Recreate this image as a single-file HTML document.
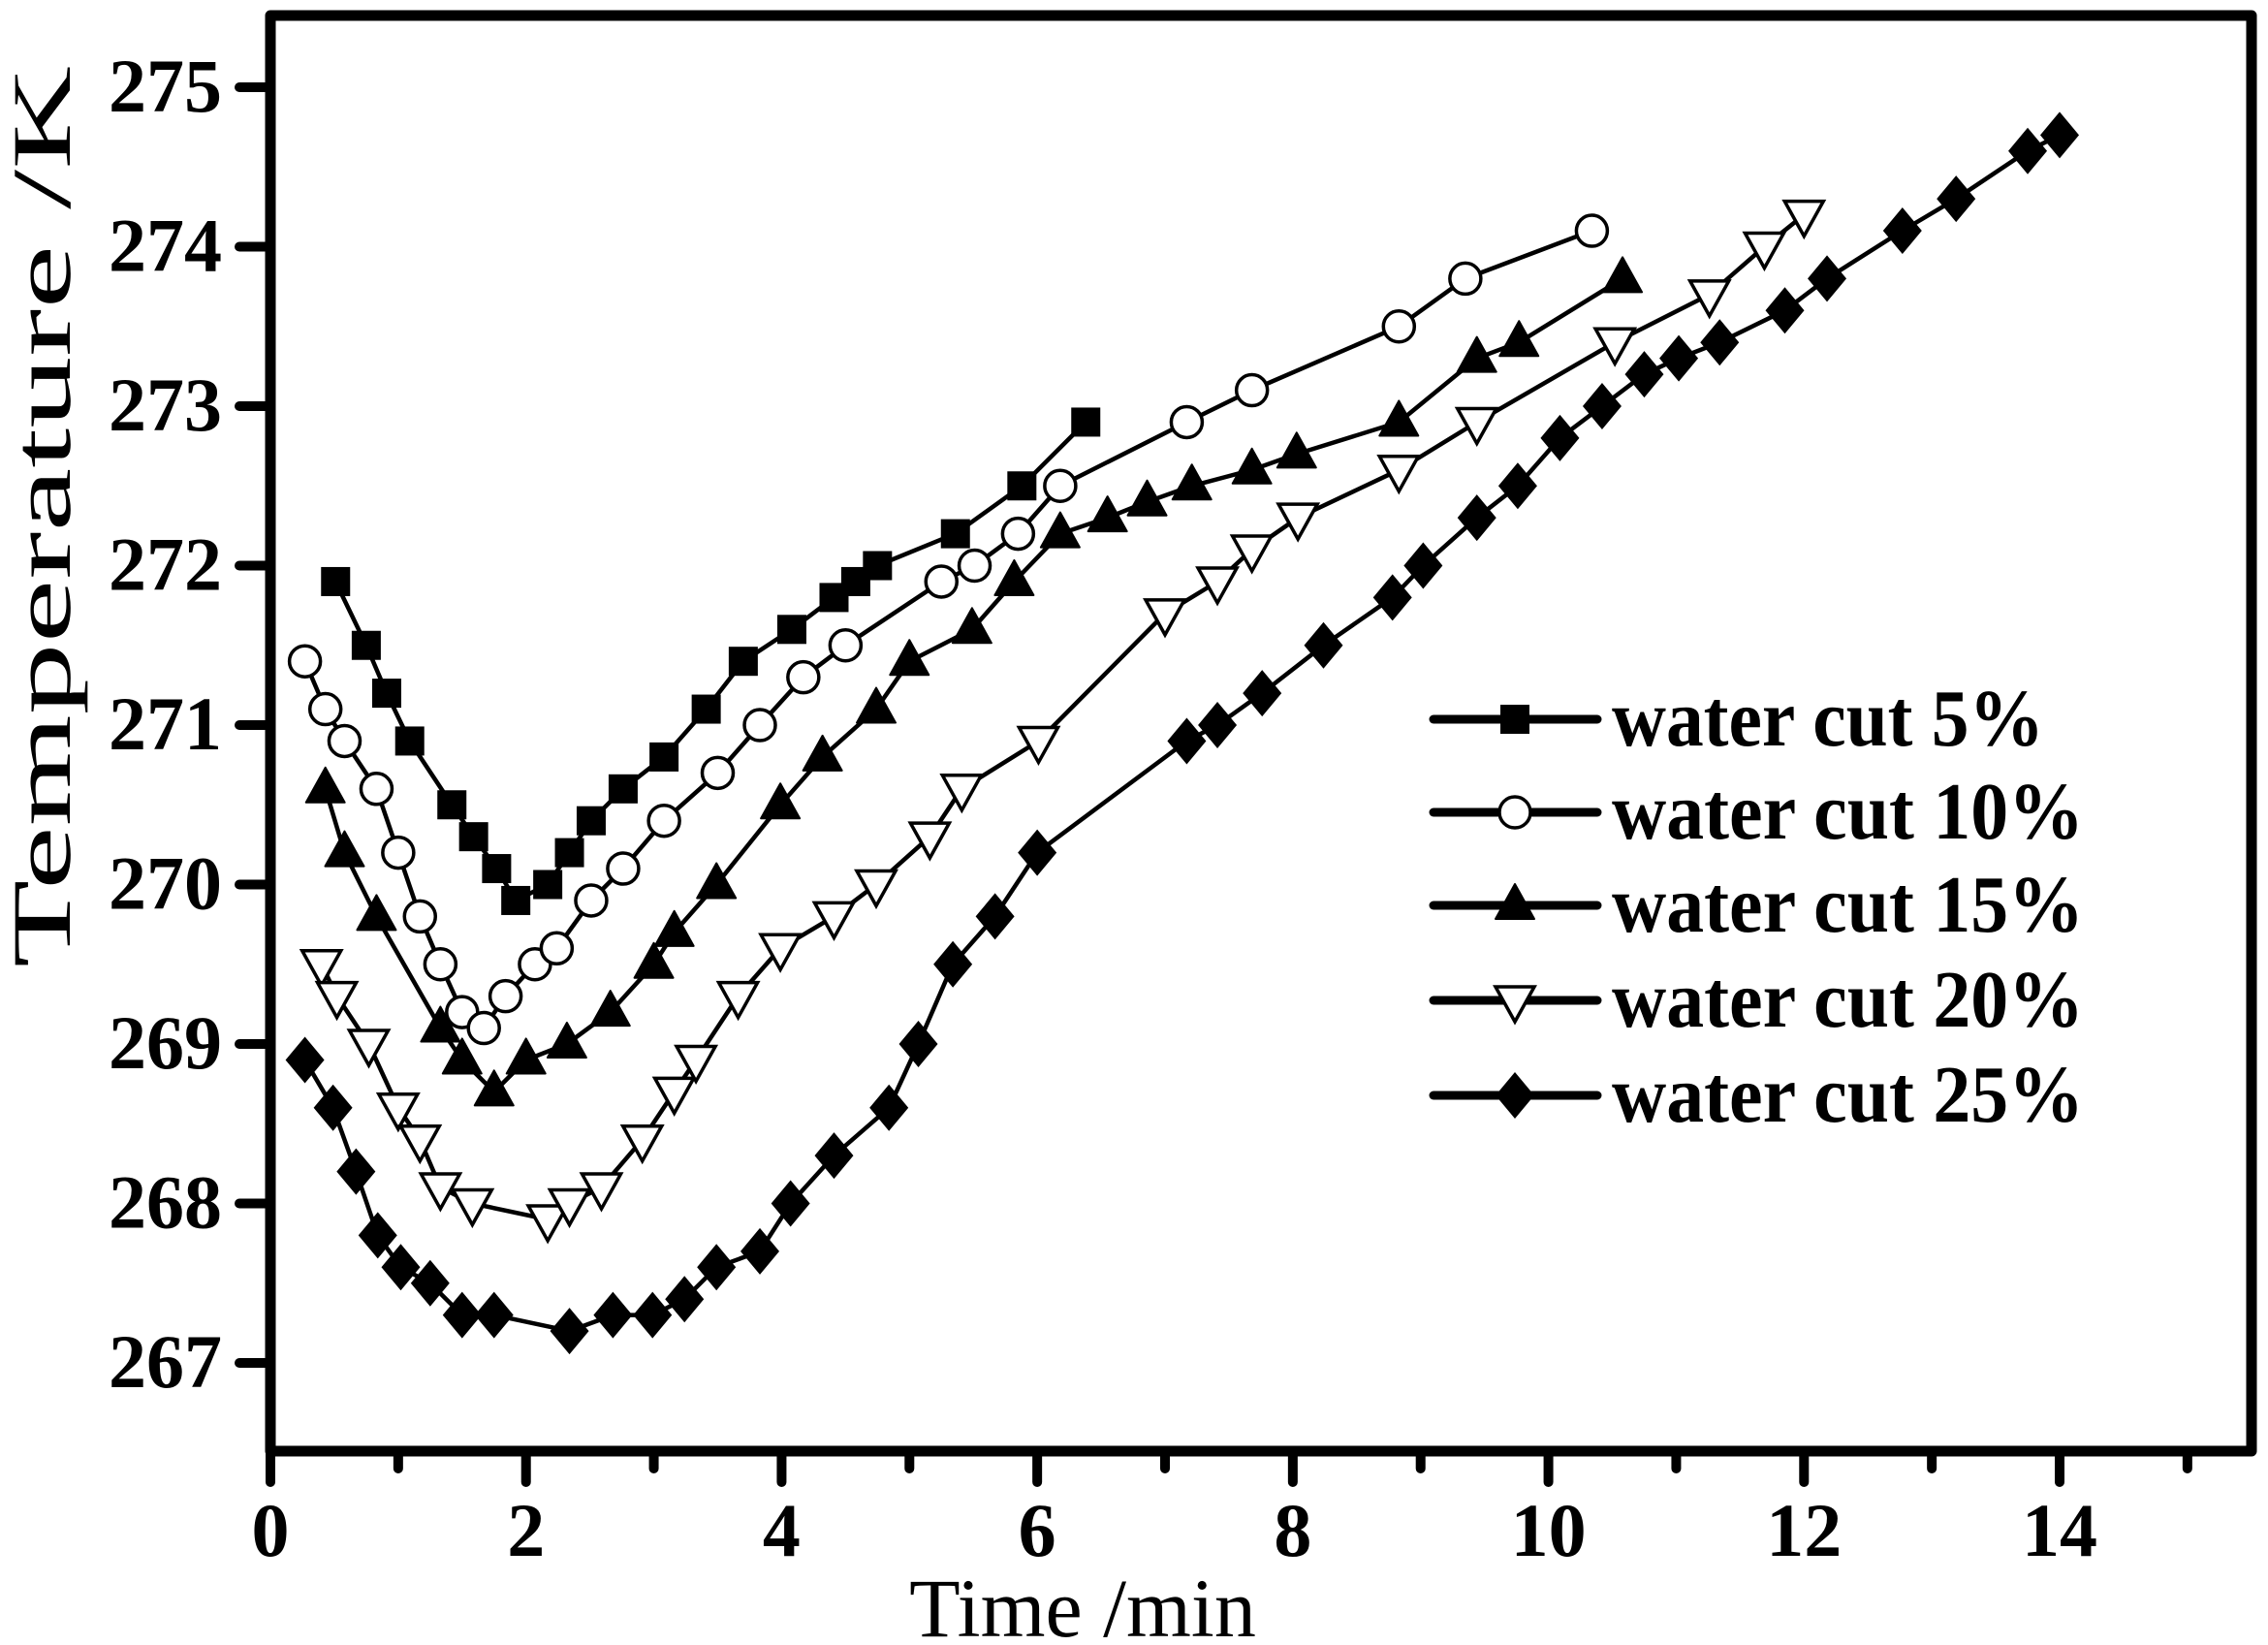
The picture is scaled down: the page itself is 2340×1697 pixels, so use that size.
<!DOCTYPE html>
<html><head><meta charset="utf-8"><style>
html,body{margin:0;padding:0;background:#fff;}
svg{display:block;font-family:"Liberation Serif",serif;}
</style></head><body>
<svg id="chart" width="2340" height="1697" viewBox="0 0 2340 1697" xmlns="http://www.w3.org/2000/svg">
<rect x="0" y="0" width="2340" height="1697" fill="#fff"/>
<g id="series"></g>
<g id="axes"></g>
<g id="legend"></g>
<text x="1117" y="1688" font-size="86" text-anchor="middle">Time /min</text>
<text transform="translate(72,533) rotate(-90)" font-size="86" text-anchor="middle" textLength="930" lengthAdjust="spacingAndGlyphs">Temperature /K</text>
</svg>
<script>
const xTicks = [0,2,4,6,8,10,12,14];
const yTicks = [267,268,269,270,271,272,273,274,275];
const seriesNames = ["water cut 5%","water cut 10%","water cut 15%","water cut 20%","water cut 25%"];
const x5 = [0.51,0.75,0.91,1.09,1.42,1.59,1.77,1.92,2.17,2.34,2.51,2.76,3.08,3.41,3.70,4.08,4.41,4.58,4.75,5.36,5.88,6.38];
const y5 = [271.9,271.5,271.2,270.9,270.5,270.3,270.1,269.9,270.0,270.2,270.4,270.6,270.8,271.1,271.4,271.6,271.8,271.9,272.0,272.2,272.5,272.9];
const x10 = [0.27,0.43,0.58,0.83,1.0,1.17,1.33,1.5,1.67,1.84,2.07,2.24,2.51,2.76,3.08,3.5,3.83,4.17,4.5,5.25,5.51,5.85,6.18,7.17,7.68,8.83,9.35,10.34];
const y10 = [271.4,271.1,270.9,270.6,270.2,269.8,269.5,269.2,269.1,269.3,269.5,269.6,269.9,270.1,270.4,270.7,271.0,271.3,271.5,271.9,272.0,272.2,272.5,272.9,273.1,273.5,273.8,274.1];
const x15 = [0.43,0.58,0.83,1.33,1.5,1.75,2.0,2.32,2.66,3.0,3.16,3.49,3.99,4.32,4.74,5.0,5.49,5.82,6.18,6.55,6.86,7.21,7.68,8.03,8.83,9.44,9.77,10.58];
const y15 = [270.6,270.2,269.8,269.1,268.9,268.7,268.9,269.0,269.2,269.5,269.7,270.0,270.5,270.8,271.1,271.4,271.6,271.9,272.2,272.3,272.4,272.5,272.6,272.7,272.9,273.3,273.4,273.8];
const x20 = [0.40,0.52,0.77,1.0,1.17,1.33,1.58,2.17,2.34,2.59,2.91,3.16,3.33,3.66,3.99,4.41,4.74,5.16,5.41,6.01,7.0,7.41,7.68,8.04,8.83,9.44,10.52,11.26,11.69,12.0];
const y20 = [269.5,269.3,269.0,268.6,268.4,268.1,268.0,267.9,268.0,268.1,268.4,268.7,268.9,269.3,269.6,269.8,270.0,270.3,270.6,270.9,271.7,271.9,272.1,272.3,272.6,272.9,273.4,273.7,274.0,274.2];
const x25 = [0.27,0.49,0.67,0.84,1.02,1.25,1.5,1.75,2.34,2.68,2.99,3.24,3.49,3.83,4.07,4.41,4.84,5.07,5.34,5.67,6.0,7.17,7.41,7.76,8.24,8.78,9.02,9.44,9.76,10.09,10.42,10.75,11.02,11.34,11.85,12.18,12.77,13.19,13.75,14.0];
const y25 = [268.9,268.6,268.2,267.8,267.6,267.5,267.3,267.3,267.2,267.3,267.3,267.4,267.6,267.7,268.0,268.3,268.6,269.0,269.5,269.8,270.2,270.9,271.0,271.2,271.5,271.8,272.0,272.3,272.5,272.8,273.0,273.2,273.3,273.4,273.6,273.8,274.1,274.3,274.6,274.7];

const NS = "http://www.w3.org/2000/svg";
const L = 279, R = 2323, T = 16, B = 1497;
const X0 = 279, XS = (2125 - 279) / 14;
const Y0 = 90, YS = (1406 - 90) / 8;
function sx(v){ return X0 + (v - 0) * XS; }
function sy(v){ return Y0 + (275 - v) * YS; }
function mk(tag, attrs, parent){
  const e = document.createElementNS(NS, tag);
  for (const k in attrs) e.setAttribute(k, attrs[k]);
  parent.appendChild(e);
  return e;
}
const seriesG = document.getElementById('series');
const axesG = document.getElementById('axes');
const legendG = document.getElementById('legend');

function marker(kind, cx, cy, parent){
  let e;
  if (kind === 'square') {
    e = mk('rect', {x:cx-15, y:cy-15, width:30, height:30, fill:'#000'}, parent);
  } else if (kind === 'circle') {
    e = mk('circle', {cx:cx, cy:cy, r:16, fill:'#fff', stroke:'#000', 'stroke-width':3.5}, parent);
  } else if (kind === 'up') {
    e = mk('polygon', {points:`${cx},${cy-22} ${cx+20},${cy+14} ${cx-20},${cy+14}`, fill:'#000', stroke:'#000', 'stroke-width':2, 'stroke-linejoin':'round'}, parent);
  } else if (kind === 'down') {
    e = mk('polygon', {points:`${cx-20},${cy-14} ${cx+20},${cy-14} ${cx},${cy+22}`, fill:'#fff', stroke:'#000', 'stroke-width':3.5}, parent);
  } else {
    e = mk('polygon', {points:`${cx},${cy-24} ${cx+20},${cy} ${cx},${cy+24} ${cx-20},${cy}`, fill:'#000'}, parent);
  }
  return e;
}

const allX = [x5, x10, x15, x20, x25];
const allY = [y5, y10, y15, y20, y25];
const kinds = ['square','circle','up','down','diamond'];
const keys = ['5','10','15','20','25'];
for (let s = 0; s < 5; s++) {
  const g = mk('g', {}, seriesG);
  
  
  const pts = allX[s].map((v, i) => sx(v).toFixed(1) + ',' + sy(allY[s][i]).toFixed(1)).join(' ');
  const line = mk('polyline', {points: pts, fill:'none', stroke:'#000', 'stroke-width':4.5, 'stroke-linejoin':'round'}, g);
  
  
  for (let i = 0; i < allX[s].length; i++) {
    const m = marker(kinds[s], sx(allX[s][i]), sy(allY[s][i]), g);
    
    
  }
}

// frame
const frame = mk('rect', {x:L, y:T, width:R-L, height:B-T, fill:'none', stroke:'#000', 'stroke-width':11, 'stroke-linejoin':'round'}, axesG);



// x ticks
for (let v = 0; v <= 15; v++) {
  const major = v % 2 === 0;
  const t = mk('line', {x1:sx(v), y1:B, x2:sx(v), y2:B + (major ? 32 : 18), stroke:'#000', 'stroke-width':10, 'stroke-linecap':'round'}, axesG);
  
  
}
xTicks.forEach(v => {
  const t = mk('text', {x:sx(v), y:1605, 'font-size':78, 'font-weight':'bold', 'text-anchor':'middle'}, axesG);
  t.textContent = v;
  
  
});
// y ticks
yTicks.forEach(v => {
  const t = mk('line', {x1:L, y1:sy(v), x2:L-32, y2:sy(v), stroke:'#000', 'stroke-width':10, 'stroke-linecap':'round'}, axesG);
  
  
  const lb = mk('text', {x:229, y:sy(v)+25, 'font-size':78, 'font-weight':'bold', 'text-anchor':'end'}, axesG);
  lb.textContent = v;
  
  
});

// legend
const legY = [742, 838, 934, 1032, 1130];
for (let s = 0; s < 5; s++) {
  const g = mk('g', {}, legendG);
  
  
  mk('line', {x1:1479, y1:legY[s], x2:1648, y2:legY[s], stroke:'#000', 'stroke-width':9, 'stroke-linecap':'round'}, g);
  marker(kinds[s], 1563, legY[s], g);
  const tx = mk('text', {x:1663, y:legY[s]+27, 'font-size':84, 'font-weight':'bold', textLength: s === 0 ? 446 : 487, lengthAdjust:'spacingAndGlyphs'}, g);
  tx.textContent = seriesNames[s];
}
</script>
</body></html>
